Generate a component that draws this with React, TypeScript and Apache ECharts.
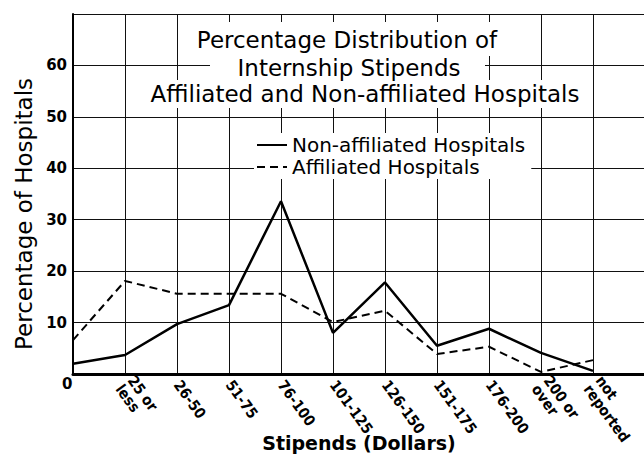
import React, { useEffect, useRef } from "react";
import * as echarts from "echarts";

const categories = ["", "25 or\nless", "26-50", "51-75", "76-100", "101-125", "126-150", "151-175", "176-200", "200 or\nover", "not\nreported", ""];
const nonAffiliated = [2.0, 3.7, 9.7, 13.4, 33.6, 8.0, 17.8, 5.5, 8.8, 4.1, 0.6, null];
const affiliated = [6.6, 18.1, 15.6, 15.6, 15.6, 10.1, 12.3, 3.9, 5.3, 0.4, 2.7, null];
const titleLines = ["Percentage Distribution of", "Internship Stipends", "Affiliated and Non-affiliated Hospitals"];
const FONT = "DejaVu Sans";
const COND = "DejaVu Sans Condensed";

export default function App() {
  const ref = useRef<HTMLDivElement>(null);
  useEffect(() => {
    if (!ref.current) return;
    const chart = echarts.init(ref.current, null, { renderer: "svg" });
    chart.setOption({
      animation: false,
      backgroundColor: "#fff",
      grid: { left: 73, top: 14, width: 572, height: 360, containLabel: false, outerBoundsMode: "none" },
      xAxis: {
        type: "category",
        data: categories,
        boundaryGap: false,
        axisLine: { lineStyle: { color: "#000", width: 3 } },
        axisTick: { show: false },
        axisLabel: {
          rotate: -54,
          interval: 0,
          margin: 8,
          color: "#000",
          fontFamily: `"${COND}", "${FONT}"`,
          fontWeight: "bold",
          fontSize: 15,
          lineHeight: 15,
        },
        splitLine: { show: true, lineStyle: { color: "#111", width: 1 } },
        name: "Stipends (Dollars)",
        nameLocation: "middle",
        nameGap: 59,
        nameMoveOverlap: false,
        nameTextStyle: { color: "#000", fontFamily: FONT, fontWeight: "bold", fontSize: 19 },
      },
      yAxis: {
        type: "value",
        min: 0,
        max: 70,
        interval: 10,
        axisLine: { show: true, lineStyle: { color: "#000", width: 2 } },
        axisTick: { show: false },
        axisLabel: {
          color: "#000",
          fontFamily: FONT,
          fontWeight: "bold",
          fontSize: 15,
          margin: 6,
          formatter: (v: number) => (v === 0 || v === 70 ? "" : String(v)),
        },
        splitLine: { show: true, lineStyle: { color: "#111", width: 1 } },
        name: "Percentage of Hospitals",
        nameLocation: "middle",
        nameGap: 38,
        nameTextStyle: { color: "#000", fontFamily: FONT, fontSize: 23, padding: [0, 40, 0, 0] },
      },
      legend: {
        orient: "vertical",
        left: 254,
        top: 133,
        itemGap: 2,
        itemWidth: 30,
        itemHeight: 14,
        backgroundColor: "#fff",
        padding: [2, 6, 2, 2],
        itemStyle: { opacity: 0 },
        textStyle: { color: "#000", fontFamily: FONT, fontSize: 20, lineHeight: 19 },
        data: ["Non-affiliated Hospitals", "Affiliated Hospitals"],
      },
      graphic: [
        { type: "rect", z: 10, shape: { x: 190, y: 22, width: 312, height: 34 }, style: { fill: "#fff" } },
        { type: "rect", z: 10, shape: { x: 210, y: 56, width: 275, height: 24 }, style: { fill: "#fff" } },
        { type: "rect", z: 10, shape: { x: 146, y: 80, width: 440, height: 28 }, style: { fill: "#fff" } },
        { type: "text", z: 11, x: 347, y: 28, style: { text: titleLines[0], fill: "#000", font: `23px "${FONT}"`, textAlign: "center" } },
        { type: "text", z: 11, x: 349, y: 56, style: { text: titleLines[1], fill: "#000", font: `23px "${FONT}"`, textAlign: "center" } },
        { type: "text", z: 11, x: 365, y: 82, style: { text: titleLines[2], fill: "#000", font: `23px "${FONT}"`, textAlign: "center" } },
        { type: "text", z: 11, x: 62, y: 376, style: { text: "0", fill: "#000", font: `bold 15px "${FONT}"` } },
      ],
      series: [
        {
          name: "Non-affiliated Hospitals",
          type: "line",
          data: nonAffiliated,
          symbol: "none",
          lineStyle: { color: "#000", width: 2.5 },
          itemStyle: { color: "#000" },
        },
        {
          name: "Affiliated Hospitals",
          type: "line",
          data: affiliated,
          symbol: "none",
          lineStyle: { color: "#000", width: 2, type: [8, 5] },
          itemStyle: { color: "#000" },
        },
      ],
    });
    return () => chart.dispose();
  }, []);
  return <div ref={ref} style={{ position: "fixed", left: 0, top: 0, width: 644, height: 454 }} />;
}
